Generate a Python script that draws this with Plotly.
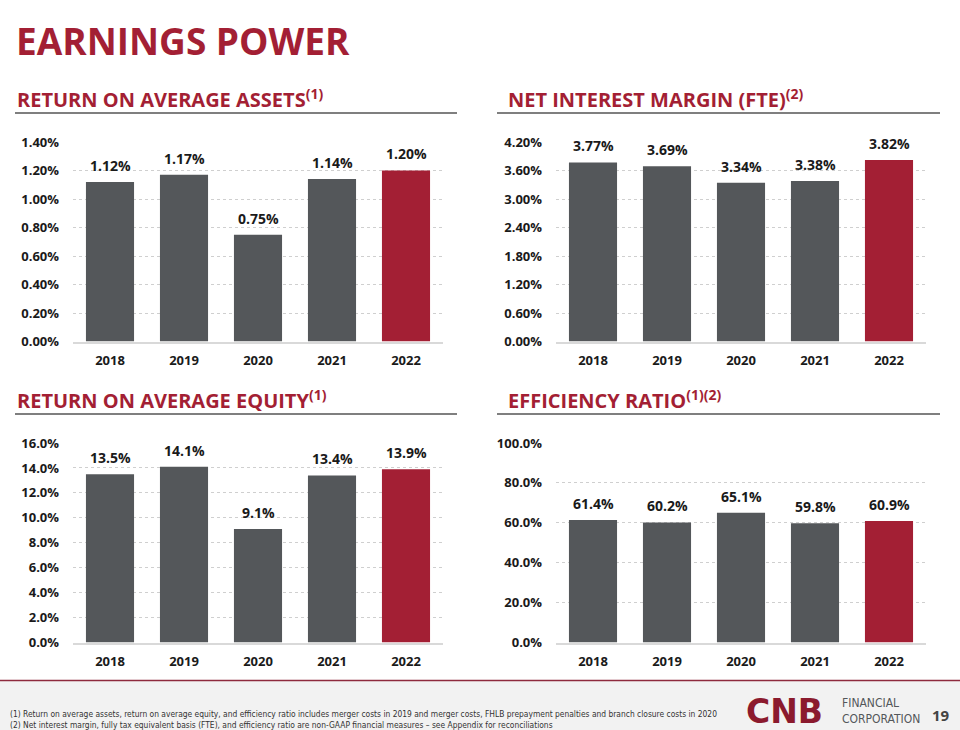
import plotly.graph_objects as go

years = ["2018", "2019", "2020", "2021", "2022"]
roaa = [1.12, 1.17, 0.75, 1.14, 1.20]
nim = [3.77, 3.69, 3.34, 3.38, 3.82]
roae = [13.5, 14.1, 9.1, 13.4, 13.9]
eff = [61.4, 60.2, 65.1, 59.8, 60.9]

roaa_ticks = [0.0, 0.2, 0.4, 0.6, 0.8, 1.0, 1.2, 1.4]
nim_ticks = [0.0, 0.6, 1.2, 1.8, 2.4, 3.0, 3.6, 4.2]
roae_ticks = [0, 2, 4, 6, 8, 10, 12, 14, 16]
eff_ticks = [0, 20, 40, 60, 80, 100]

RED = "#a31f34"
GREY = "#54575a"
TXT = "#1a1a1a"
FONT = "Open Sans"

W, H = 960, 730

def px_x(x):
    return x / W

def px_y(y):
    return 1 - y / H

panels = [
    dict(vals=roaa, ticks=roaa_ticks, dec=2, x0=73, x1=443, y0=142, y1=341.5),
    dict(vals=nim, ticks=nim_ticks, dec=2, x0=556, x1=926, y0=142, y1=341.5),
    dict(vals=roae, ticks=roae_ticks, dec=1, x0=73, x1=443, y0=443, y1=642.5),
    dict(vals=eff, ticks=eff_ticks, dec=1, x0=556, x1=926, y0=443, y1=642.5),
]

fig = go.Figure()
annotations = []
layout_axes = {}
for i, p in enumerate(panels, start=1):
    xa = "x" if i == 1 else f"x{i}"
    ya = "y" if i == 1 else f"y{i}"
    colors = [GREY] * (len(years) - 1) + [RED]
    fig.add_trace(go.Bar(
        x=years, y=p["vals"], xaxis=xa, yaxis=ya,
        marker=dict(color=colors, line=dict(width=0)),
        showlegend=False, hoverinfo="skip",
    ))
    for k, v in enumerate(p["vals"]):
        annotations.append(dict(
            x=k, y=v, xref=xa, yref=ya, text=f"{v:.{p['dec']}f}%",
            showarrow=False, yanchor="bottom", yshift=5,
            font=dict(family=FONT, size=14, color=TXT, weight="bold"),
        ))
    xkey = "xaxis" if i == 1 else f"xaxis{i}"
    ykey = "yaxis" if i == 1 else f"yaxis{i}"
    layout_axes[xkey] = dict(
        type="category", automargin=False, range=[-0.5, len(years) - 0.5],
        domain=[px_x(p["x0"]), px_x(p["x1"])], anchor=ya,
        showgrid=False, showline=True, linecolor="#d9d9d9", linewidth=2,
        ticks="", tickfont=dict(family=FONT, size=13, color=TXT, weight="bold"),
        ticklabelstandoff=6, fixedrange=True,
    )
    layout_axes[ykey] = dict(
        automargin=False,
        domain=[px_y(p["y1"]), px_y(p["y0"])], anchor=xa,
        range=[p["ticks"][0], p["ticks"][-1]], tickmode="array",
        tickvals=p["ticks"], ticktext=[f"{t:.{p['dec']}f}%" for t in p["ticks"]],
        showgrid=True, gridcolor="#cfcfcf", griddash="dot", gridwidth=1,
        zeroline=False, showline=False, ticks="",
        tickfont=dict(family=FONT, size=13, color=TXT, weight="bold"),
        ticklabelstandoff=13, fixedrange=True,
    )

# Titles
annotations.append(dict(
    x=px_x(14), y=px_y(40), xref="paper", yref="paper", xanchor="left", yanchor="middle",
    text="EARNINGS POWER", showarrow=False,
    font=dict(family=FONT, size=37, color=RED, weight="bold"),
))
subs = [
    ("RETURN ON AVERAGE ASSETS<sup>(1)</sup>", 15, 98),
    ("NET INTEREST MARGIN (FTE)<sup>(2)</sup>", 506, 98),
    ("RETURN ON AVERAGE EQUITY<sup>(1)</sup>", 15, 399),
    ("EFFICIENCY RATIO<sup>(1)(2)</sup>", 506, 399),
]
for t, x, y in subs:
    annotations.append(dict(
        x=px_x(x), y=px_y(y), xref="paper", yref="paper", xanchor="left", yanchor="middle",
        text=t, showarrow=False,
        font=dict(family=FONT, size=20, color=RED, weight="bold"),
    ))

shapes = []
for x0, x1, y in [(15, 457, 113), (497, 940, 113), (15, 457, 414), (497, 940, 414)]:
    shapes.append(dict(type="line", xref="paper", yref="paper",
                       x0=px_x(x0), x1=px_x(x1), y0=px_y(y), y1=px_y(y),
                       line=dict(color="#7f7f7f", width=2)))
# footer
shapes.append(dict(type="rect", xref="paper", yref="paper", x0=0, x1=1, y0=0, y1=px_y(681),
                   fillcolor="#f2f2f2", line=dict(width=0), layer="below"))
shapes.append(dict(type="line", xref="paper", yref="paper", x0=0, x1=1, y0=px_y(680.5), y1=px_y(680.5),
                   line=dict(color="#8e2a3d", width=1.5)))

foot = [
    ("(1) Return on average assets, return on average equity, and efficiency ratio includes merger costs in 2019 and merger costs, FHLB prepayment penalties and branch closure costs in 2020", 714),
    ("(2) Net interest margin, fully tax equivalent basis (FTE), and efficiency ratio are non-GAAP financial measures \u2013 see Appendix for reconciliations", 725),
]
for t, y in foot:
    annotations.append(dict(
        x=px_x(8), y=px_y(y), xref="paper", yref="paper", xanchor="left", yanchor="middle",
        text=t, showarrow=False,
        font=dict(family="Liberation Sans Narrow, DejaVu Sans Condensed, sans-serif", size=8.4, color="#333333"),
    ))

# logo & page number
annotations.append(dict(
    x=px_x(744), y=px_y(711), xref="paper", yref="paper", xanchor="left", yanchor="middle",
    text="CNB", showarrow=False,
    font=dict(family="DejaVu Sans", size=33, color="#8b1a2e", weight="bold"),
))
annotations.append(dict(
    x=px_x(840), y=px_y(711), xref="paper", yref="paper", xanchor="left", yanchor="middle",
    text="FINANCIAL<br>CORPORATION", showarrow=False, align="left",
    font=dict(family="Liberation Sans Narrow, DejaVu Sans Condensed, sans-serif", size=12, color="#54575a"),
))
annotations.append(dict(
    x=px_x(941), y=px_y(715), xref="paper", yref="paper", xanchor="center", yanchor="middle",
    text="19", showarrow=False,
    font=dict(family=FONT, size=15, color="#444444", weight="bold"),
))

fig.update_layout(
    width=W, height=H, margin=dict(l=0, r=0, t=0, b=0, autoexpand=False),
    paper_bgcolor="white", plot_bgcolor="rgba(0,0,0,0)",
    annotations=annotations, shapes=shapes, bargap=0.35,
    **layout_axes,
)

fig.write_html("out.html", config={"displayModeBar": False})
